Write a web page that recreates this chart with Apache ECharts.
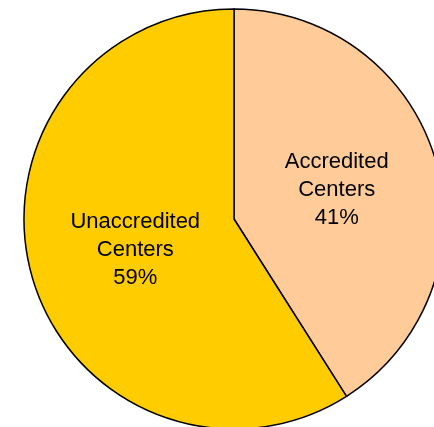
<!DOCTYPE html>
<html>
<head>
<meta charset="utf-8">
<script src="https://cdn.jsdelivr.net/npm/echarts@6/dist/echarts.min.js"></script>
<style>
  html, body { margin: 0; padding: 0; background: #fff; }
  #chart { width: 434px; height: 427px; }
</style>
</head>
<body>
<div id="chart"></div>
<script>
// Share of centers by accreditation status
const categories = ['Accredited\nCenters', 'Unaccredited\nCenters'];
const values = [41, 59];
const colors = ['#FFCC99', '#FFCC00'];
// small nudges so each label sits where the slice text is set
const labelNudge = [[-1, 1], [5, 1]];

const chart = echarts.init(document.getElementById('chart'), null, { renderer: 'canvas' });

chart.setOption({
  animation: false,
  backgroundColor: '#ffffff',
  series: [{
    type: 'pie',
    center: [234, 219],
    radius: 210,
    startAngle: 90,
    clockwise: true,
    silent: true,
    data: categories.map((name, i) => ({
      name: name,
      value: values[i],
      itemStyle: { color: colors[i] },
      label: { offset: labelNudge[i] }
    })),
    itemStyle: { borderColor: '#000000', borderWidth: 1.5 },
    label: {
      show: true,
      position: 'inside',
      formatter: p => p.name + '\n' + p.value + '%',
      fontFamily: 'Liberation Sans, Arial, sans-serif',
      fontSize: 22,
      lineHeight: 28,
      color: '#000000',
      align: 'center'
    },
    labelLine: { show: false },
    emphasis: { disabled: true }
  }]
});
</script>
</body>
</html>
